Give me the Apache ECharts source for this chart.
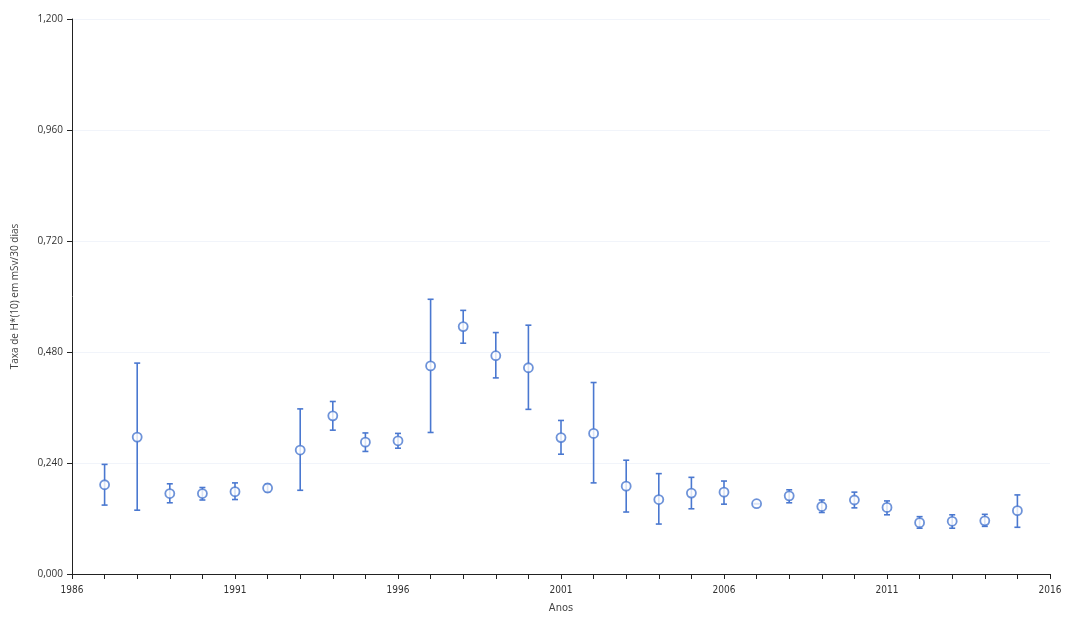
<!DOCTYPE html>
<html>
<head>
<meta charset="utf-8">
<script src="https://cdn.jsdelivr.net/npm/echarts@6/dist/echarts.min.js"></script>
<style>html,body{margin:0;padding:0;background:#fff}#c{width:1065px;height:617px}</style>
</head>
<body>
<div id="c"></div>
<script>
const years = [1987,1988,1989,1990,1991,1992,1993,1994,1995,1996,1997,1998,1999,2000,2001,2002,2003,2004,2005,2006,2007,2008,2009,2010,2011,2012,2013,2014,2015];
const values = [0.193,0.296,0.174,0.174,0.178,0.186,0.268,0.342,0.285,0.288,0.450,0.535,0.472,0.446,0.295,0.304,0.190,0.161,0.175,0.177,0.152,0.169,0.146,0.160,0.144,0.111,0.114,0.115,0.137];
const highs  = [0.237,0.456,0.195,0.187,0.197,0.194,0.357,0.373,0.305,0.304,0.594,0.570,0.522,0.538,0.332,0.414,0.246,0.217,0.209,0.201,0.152,0.182,0.160,0.177,0.158,0.124,0.128,0.129,0.171];
const lows   = [0.149,0.138,0.154,0.160,0.161,0.178,0.181,0.311,0.265,0.272,0.306,0.499,0.424,0.356,0.259,0.197,0.134,0.108,0.141,0.151,0.152,0.154,0.133,0.143,0.128,0.099,0.099,0.103,0.101];
const yTicks = [0, 0.24, 0.48, 0.72, 0.96, 1.2];

const chart = echarts.init(document.getElementById('c'));
const blue = '#4a78d0';
const errData = years.map((y,i)=>[y, lows[i], highs[i]]);
const ptData = years.map((y,i)=>[y, values[i]]);
const labelFont = '"Liberation Sans Narrow","DejaVu Sans Condensed",sans-serif';

chart.setOption({
  animation: false,
  grid: {left: 72, right: 15, top: 19, bottom: 43, containLabel: false, outerBoundsMode: 'none'},
  xAxis: {
    type: 'value', min: 1986, max: 2016, interval: 5,
    name: 'Anos', nameLocation: 'middle', nameGap: 29,
    nameTextStyle: {color: '#444', fontSize: 11, fontFamily: labelFont},
    axisLine: {lineStyle: {color: '#222', width: 1}},
    axisTick: {show: true, length: 5, lineStyle: {color: '#222'}},
    minorTick: {show: true, splitNumber: 5, length: 5, lineStyle: {color: '#222'}},
    axisLabel: {color: '#333', fontSize: 10, fontFamily: labelFont, margin: 11, formatter: v => String(v)},
    splitLine: {show: false}
  },
  yAxis: {
    type: 'value', min: 0, max: 1.2, interval: 0.24,
    name: 'Taxa de H*(10) em mSv/30 dias', nameLocation: 'middle', nameGap: 52,
    nameTextStyle: {color: '#444', fontSize: 10, fontFamily: '"Open Sans",sans-serif'},
    axisLine: {show: true, lineStyle: {color: '#222', width: 1}},
    axisTick: {show: true, length: 5, lineStyle: {color: '#222'}},
    axisLabel: {color: '#333', fontSize: 10, fontFamily: '"Open Sans",sans-serif', margin: 9,
      formatter: v => v.toFixed(3).replace('.', ',')},
    splitLine: {show: true, lineStyle: {color: '#f1f4fa', width: 1}}
  },
  series: [
    {
      type: 'custom',
      data: errData,
      renderItem: function (params, api) {
        const x = api.value(0);
        const lo = api.coord([x, api.value(1)]);
        const hi = api.coord([x, api.value(2)]);
        const hw = 3;
        const st = {stroke: blue, lineWidth: 1.6, fill: null};
        return {type: 'group', children: [
          {type: 'line', shape: {x1: lo[0], y1: lo[1], x2: hi[0], y2: hi[1]}, style: st},
          {type: 'line', shape: {x1: lo[0]-hw, y1: lo[1], x2: lo[0]+hw, y2: lo[1]}, style: st},
          {type: 'line', shape: {x1: hi[0]-hw, y1: hi[1], x2: hi[0]+hw, y2: hi[1]}, style: st}
        ]};
      },
      z: 2
    },
    {
      type: 'scatter',
      data: ptData,
      symbol: 'circle', symbolSize: 9,
      itemStyle: {color: '#fff', borderColor: blue, borderWidth: 1.8},
      z: 3
    }
  ]
});
</script>
</body>
</html>
